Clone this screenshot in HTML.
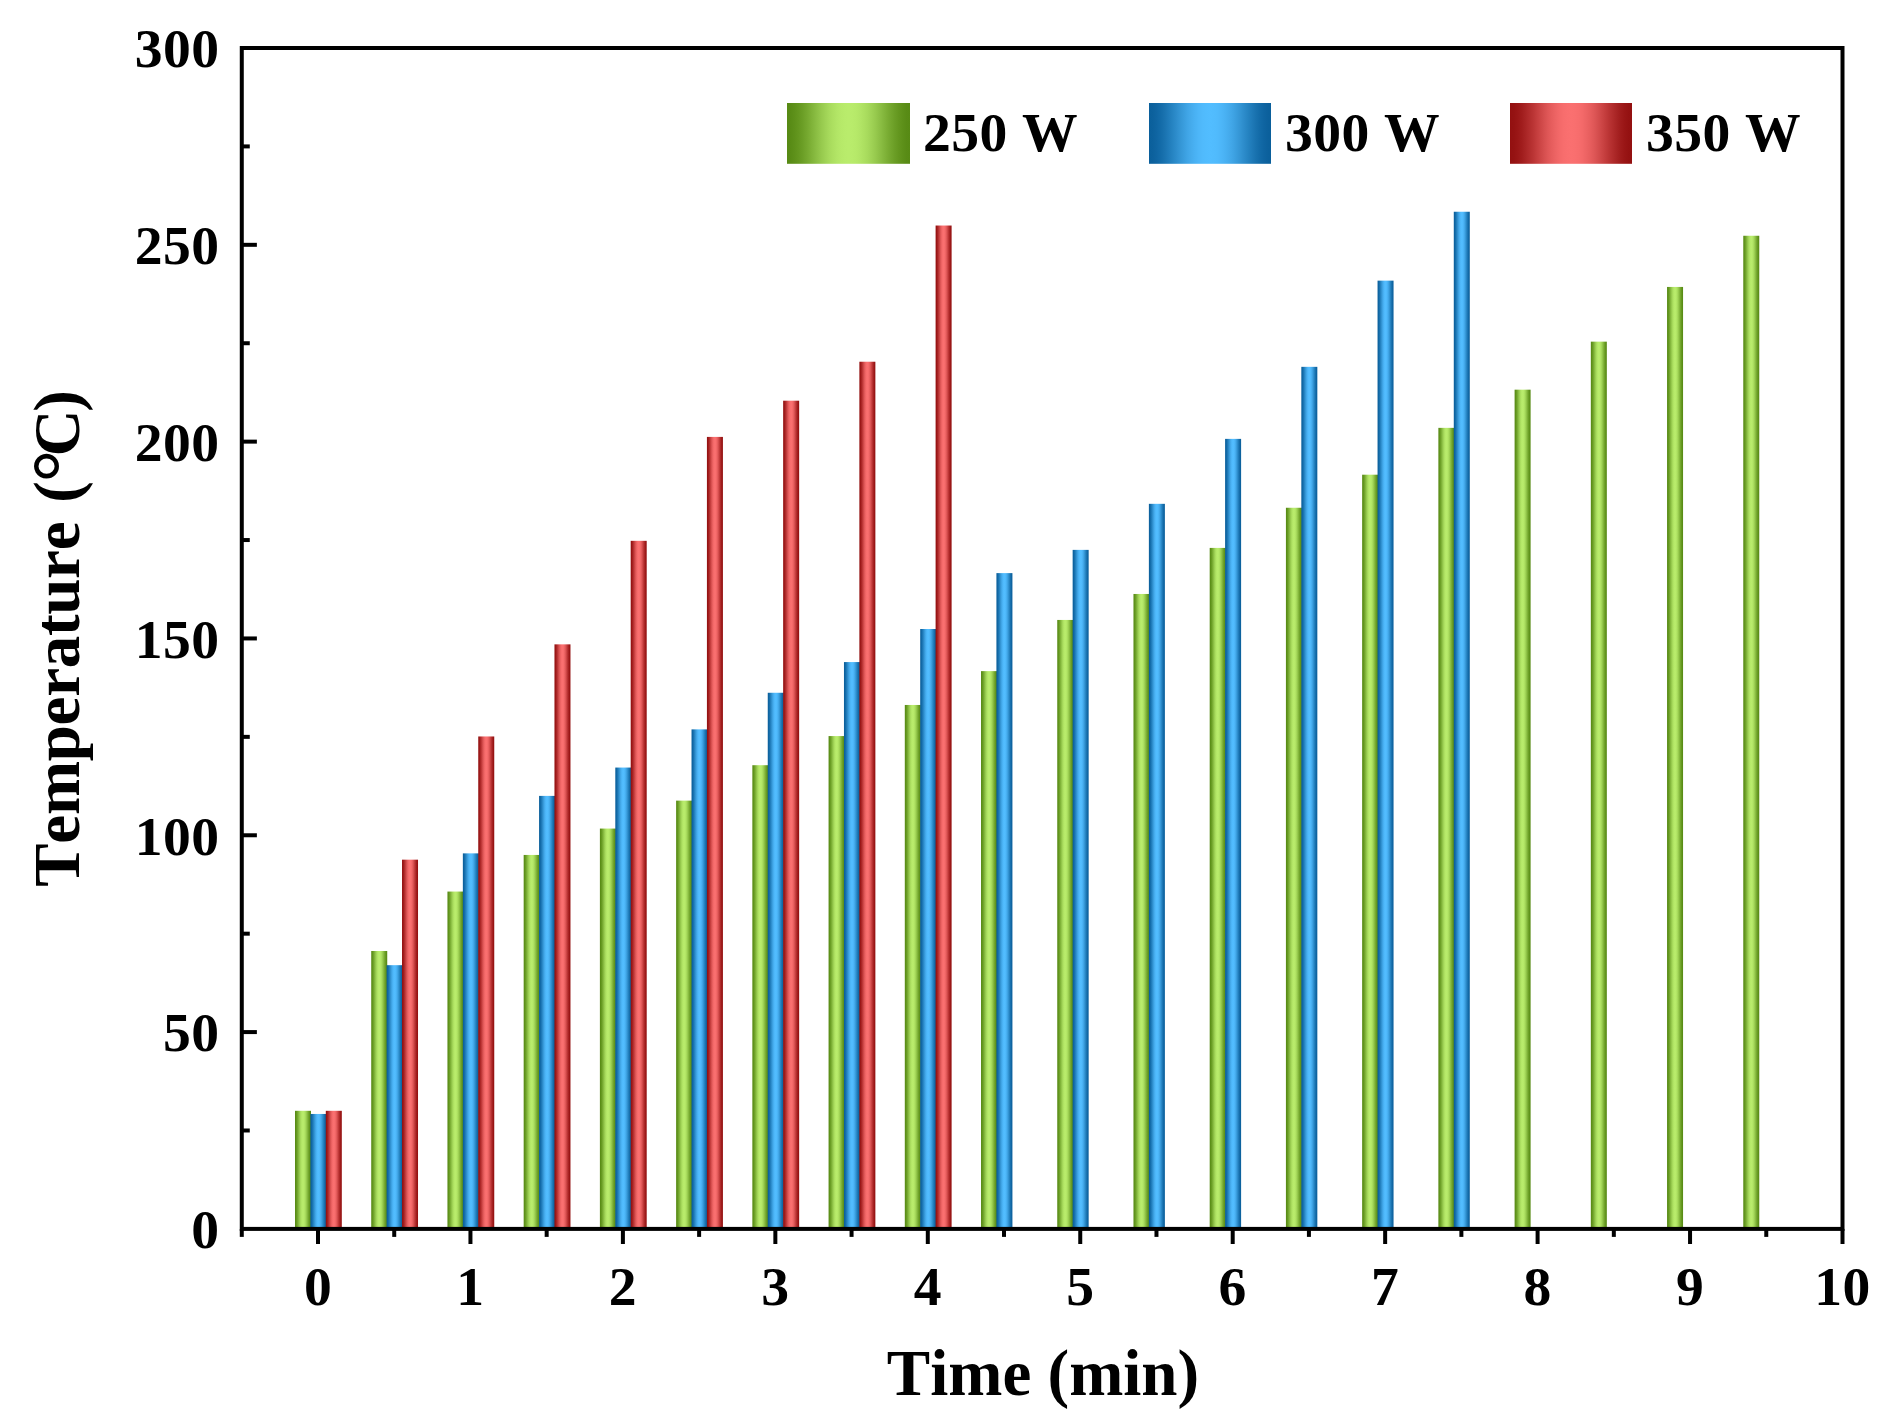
<!DOCTYPE html>
<html lang="en"><head><meta charset="utf-8"><title>Temperature vs Time</title>
<style>html,body{margin:0;padding:0;background:#fff;}body{width:1891px;height:1422px;overflow:hidden;}svg{display:block;}</style>
</head><body>
<svg width="1891" height="1422" viewBox="0 0 1891 1422">
<defs><linearGradient id="gG" x1="0" y1="0" x2="1" y2="0"><stop offset="0.000" stop-color="#578a14"/><stop offset="0.031" stop-color="#598c16"/><stop offset="0.062" stop-color="#5e911a"/><stop offset="0.094" stop-color="#64971f"/><stop offset="0.125" stop-color="#6b9e26"/><stop offset="0.156" stop-color="#73a62d"/><stop offset="0.188" stop-color="#7caf35"/><stop offset="0.219" stop-color="#85b83e"/><stop offset="0.250" stop-color="#8ec146"/><stop offset="0.281" stop-color="#97ca4e"/><stop offset="0.312" stop-color="#9fd255"/><stop offset="0.344" stop-color="#a7da5c"/><stop offset="0.375" stop-color="#ade061"/><stop offset="0.406" stop-color="#b2e566"/><stop offset="0.438" stop-color="#b6e969"/><stop offset="0.469" stop-color="#b8eb6b"/><stop offset="0.500" stop-color="#b9ec6c"/><stop offset="0.531" stop-color="#b8eb6b"/><stop offset="0.562" stop-color="#b6e969"/><stop offset="0.594" stop-color="#b2e566"/><stop offset="0.625" stop-color="#ade061"/><stop offset="0.656" stop-color="#a7da5c"/><stop offset="0.688" stop-color="#9fd255"/><stop offset="0.719" stop-color="#97ca4e"/><stop offset="0.750" stop-color="#8ec146"/><stop offset="0.781" stop-color="#85b83e"/><stop offset="0.812" stop-color="#7caf35"/><stop offset="0.844" stop-color="#73a62d"/><stop offset="0.875" stop-color="#6b9e26"/><stop offset="0.906" stop-color="#64971f"/><stop offset="0.938" stop-color="#5e911a"/><stop offset="0.969" stop-color="#598c16"/><stop offset="1.000" stop-color="#578a14"/></linearGradient><linearGradient id="gB" x1="0" y1="0" x2="1" y2="0"><stop offset="0.000" stop-color="#0a5f9b"/><stop offset="0.031" stop-color="#0c619d"/><stop offset="0.062" stop-color="#0f65a2"/><stop offset="0.094" stop-color="#136ba8"/><stop offset="0.125" stop-color="#1972af"/><stop offset="0.156" stop-color="#1f7ab8"/><stop offset="0.188" stop-color="#2583c1"/><stop offset="0.219" stop-color="#2c8bca"/><stop offset="0.250" stop-color="#3394d3"/><stop offset="0.281" stop-color="#399cdc"/><stop offset="0.312" stop-color="#3fa4e5"/><stop offset="0.344" stop-color="#45abec"/><stop offset="0.375" stop-color="#49b1f3"/><stop offset="0.406" stop-color="#4db6f8"/><stop offset="0.438" stop-color="#50bafc"/><stop offset="0.469" stop-color="#51bcfe"/><stop offset="0.500" stop-color="#52bdff"/><stop offset="0.531" stop-color="#51bcfe"/><stop offset="0.562" stop-color="#50bafc"/><stop offset="0.594" stop-color="#4db6f8"/><stop offset="0.625" stop-color="#49b1f3"/><stop offset="0.656" stop-color="#45abec"/><stop offset="0.688" stop-color="#3fa4e5"/><stop offset="0.719" stop-color="#399cdc"/><stop offset="0.750" stop-color="#3394d3"/><stop offset="0.781" stop-color="#2c8bca"/><stop offset="0.812" stop-color="#2583c1"/><stop offset="0.844" stop-color="#1f7ab8"/><stop offset="0.875" stop-color="#1972af"/><stop offset="0.906" stop-color="#136ba8"/><stop offset="0.938" stop-color="#0f65a2"/><stop offset="0.969" stop-color="#0c619d"/><stop offset="1.000" stop-color="#0a5f9b"/></linearGradient><linearGradient id="gR" x1="0" y1="0" x2="1" y2="0"><stop offset="0.000" stop-color="#931010"/><stop offset="0.031" stop-color="#951212"/><stop offset="0.062" stop-color="#9a1616"/><stop offset="0.094" stop-color="#a01c1c"/><stop offset="0.125" stop-color="#a82424"/><stop offset="0.156" stop-color="#b12c2c"/><stop offset="0.188" stop-color="#ba3434"/><stop offset="0.219" stop-color="#c43d3d"/><stop offset="0.250" stop-color="#cd4646"/><stop offset="0.281" stop-color="#d64f4f"/><stop offset="0.312" stop-color="#df5757"/><stop offset="0.344" stop-color="#e75e5e"/><stop offset="0.375" stop-color="#ed6464"/><stop offset="0.406" stop-color="#f36969"/><stop offset="0.438" stop-color="#f76d6d"/><stop offset="0.469" stop-color="#f96f6f"/><stop offset="0.500" stop-color="#fa7070"/><stop offset="0.531" stop-color="#f96f6f"/><stop offset="0.562" stop-color="#f76d6d"/><stop offset="0.594" stop-color="#f36969"/><stop offset="0.625" stop-color="#ed6464"/><stop offset="0.656" stop-color="#e75e5e"/><stop offset="0.688" stop-color="#df5757"/><stop offset="0.719" stop-color="#d64f4f"/><stop offset="0.750" stop-color="#cd4646"/><stop offset="0.781" stop-color="#c43d3d"/><stop offset="0.812" stop-color="#ba3434"/><stop offset="0.844" stop-color="#b12c2c"/><stop offset="0.875" stop-color="#a82424"/><stop offset="0.906" stop-color="#a01c1c"/><stop offset="0.938" stop-color="#9a1616"/><stop offset="0.969" stop-color="#951212"/><stop offset="1.000" stop-color="#931010"/></linearGradient></defs>
<rect x="0" y="0" width="1891" height="1422" fill="#ffffff"/>
<g id="bars-250"><rect x="295.00" y="1110.81" width="16.00" height="118.09" fill="url(#gG)"/>
<rect x="371.23" y="950.99" width="16.00" height="277.91" fill="url(#gG)"/>
<rect x="447.45" y="891.56" width="16.00" height="337.34" fill="url(#gG)"/>
<rect x="523.67" y="854.95" width="16.00" height="373.95" fill="url(#gG)"/>
<rect x="599.90" y="828.57" width="16.00" height="400.33" fill="url(#gG)"/>
<rect x="676.12" y="800.63" width="16.00" height="428.27" fill="url(#gG)"/>
<rect x="752.35" y="765.20" width="16.00" height="463.70" fill="url(#gG)"/>
<rect x="828.57" y="736.07" width="16.00" height="492.83" fill="url(#gG)"/>
<rect x="904.80" y="704.97" width="16.00" height="523.93" fill="url(#gG)"/>
<rect x="981.02" y="671.12" width="16.00" height="557.78" fill="url(#gG)"/>
<rect x="1057.25" y="619.95" width="16.00" height="608.95" fill="url(#gG)"/>
<rect x="1133.47" y="593.97" width="16.00" height="634.93" fill="url(#gG)"/>
<rect x="1209.70" y="547.91" width="16.00" height="680.99" fill="url(#gG)"/>
<rect x="1285.92" y="507.76" width="16.00" height="721.14" fill="url(#gG)"/>
<rect x="1362.15" y="474.70" width="16.00" height="754.20" fill="url(#gG)"/>
<rect x="1438.38" y="427.86" width="16.00" height="801.04" fill="url(#gG)"/>
<rect x="1514.60" y="389.67" width="16.00" height="839.23" fill="url(#gG)"/>
<rect x="1590.82" y="341.65" width="16.00" height="887.25" fill="url(#gG)"/>
<rect x="1667.05" y="286.94" width="16.00" height="941.96" fill="url(#gG)"/>
<rect x="1743.27" y="235.76" width="16.00" height="993.14" fill="url(#gG)"/></g>
<g id="bars-300"><rect x="310.40" y="1113.96" width="16.00" height="114.94" fill="url(#gB)"/>
<rect x="386.62" y="965.17" width="16.00" height="263.73" fill="url(#gB)"/>
<rect x="462.85" y="853.37" width="16.00" height="375.53" fill="url(#gB)"/>
<rect x="539.07" y="795.90" width="16.00" height="433.00" fill="url(#gB)"/>
<rect x="615.30" y="767.56" width="16.00" height="461.34" fill="url(#gB)"/>
<rect x="691.52" y="729.38" width="16.00" height="499.52" fill="url(#gB)"/>
<rect x="767.75" y="692.77" width="16.00" height="536.13" fill="url(#gB)"/>
<rect x="843.97" y="662.07" width="16.00" height="566.83" fill="url(#gB)"/>
<rect x="920.20" y="629.00" width="16.00" height="599.90" fill="url(#gB)"/>
<rect x="996.42" y="573.11" width="16.00" height="655.79" fill="url(#gB)"/>
<rect x="1072.65" y="549.88" width="16.00" height="679.02" fill="url(#gB)"/>
<rect x="1148.88" y="503.83" width="16.00" height="725.07" fill="url(#gB)"/>
<rect x="1225.10" y="438.88" width="16.00" height="790.02" fill="url(#gB)"/>
<rect x="1301.33" y="366.84" width="16.00" height="862.06" fill="url(#gB)"/>
<rect x="1377.55" y="280.64" width="16.00" height="948.26" fill="url(#gB)"/>
<rect x="1453.78" y="211.75" width="16.00" height="1017.15" fill="url(#gB)"/></g>
<g id="bars-350"><rect x="325.80" y="1110.81" width="16.00" height="118.09" fill="url(#gR)"/>
<rect x="402.02" y="859.67" width="16.00" height="369.23" fill="url(#gR)"/>
<rect x="478.25" y="736.46" width="16.00" height="492.44" fill="url(#gR)"/>
<rect x="554.47" y="644.35" width="16.00" height="584.55" fill="url(#gR)"/>
<rect x="630.70" y="540.83" width="16.00" height="688.07" fill="url(#gR)"/>
<rect x="706.92" y="436.91" width="16.00" height="791.99" fill="url(#gR)"/>
<rect x="783.15" y="400.70" width="16.00" height="828.20" fill="url(#gR)"/>
<rect x="859.37" y="361.73" width="16.00" height="867.17" fill="url(#gR)"/>
<rect x="935.60" y="225.53" width="16.00" height="1003.37" fill="url(#gR)"/></g>
<rect x="241.78" y="48.00" width="1600.72" height="1180.90" fill="none" stroke="#000" stroke-width="4"/>
<g stroke="#000" stroke-width="4" fill="none"><line x1="241.78" y1="1130.49" x2="249.78" y2="1130.49"/>
<line x1="241.78" y1="1032.08" x2="256.88" y2="1032.08"/>
<line x1="241.78" y1="933.68" x2="249.78" y2="933.68"/>
<line x1="241.78" y1="835.27" x2="256.88" y2="835.27"/>
<line x1="241.78" y1="736.86" x2="249.78" y2="736.86"/>
<line x1="241.78" y1="638.45" x2="256.88" y2="638.45"/>
<line x1="241.78" y1="540.04" x2="249.78" y2="540.04"/>
<line x1="241.78" y1="441.63" x2="256.88" y2="441.63"/>
<line x1="241.78" y1="343.23" x2="249.78" y2="343.23"/>
<line x1="241.78" y1="244.82" x2="256.88" y2="244.82"/>
<line x1="241.78" y1="146.41" x2="249.78" y2="146.41"/>
<line x1="318.00" y1="1228.90" x2="318.00" y2="1244.00"/>
<line x1="241.78" y1="1228.90" x2="241.78" y2="1236.90"/>
<line x1="470.45" y1="1228.90" x2="470.45" y2="1244.00"/>
<line x1="394.23" y1="1228.90" x2="394.23" y2="1236.90"/>
<line x1="622.90" y1="1228.90" x2="622.90" y2="1244.00"/>
<line x1="546.67" y1="1228.90" x2="546.67" y2="1236.90"/>
<line x1="775.35" y1="1228.90" x2="775.35" y2="1244.00"/>
<line x1="699.12" y1="1228.90" x2="699.12" y2="1236.90"/>
<line x1="927.80" y1="1228.90" x2="927.80" y2="1244.00"/>
<line x1="851.57" y1="1228.90" x2="851.57" y2="1236.90"/>
<line x1="1080.25" y1="1228.90" x2="1080.25" y2="1244.00"/>
<line x1="1004.02" y1="1228.90" x2="1004.02" y2="1236.90"/>
<line x1="1232.70" y1="1228.90" x2="1232.70" y2="1244.00"/>
<line x1="1156.47" y1="1228.90" x2="1156.47" y2="1236.90"/>
<line x1="1385.15" y1="1228.90" x2="1385.15" y2="1244.00"/>
<line x1="1308.92" y1="1228.90" x2="1308.92" y2="1236.90"/>
<line x1="1537.60" y1="1228.90" x2="1537.60" y2="1244.00"/>
<line x1="1461.38" y1="1228.90" x2="1461.38" y2="1236.90"/>
<line x1="1690.05" y1="1228.90" x2="1690.05" y2="1244.00"/>
<line x1="1613.82" y1="1228.90" x2="1613.82" y2="1236.90"/>
<line x1="1842.50" y1="1228.90" x2="1842.50" y2="1244.00"/>
<line x1="1766.27" y1="1228.90" x2="1766.27" y2="1236.90"/></g>
<g font-family="'Liberation Serif', 'Times New Roman', serif" font-weight="bold" fill="#000" style="font-kerning:none">
<g font-size="55.6" text-anchor="end" letter-spacing="0.45">
<text x="219.6" y="1248.20">0</text>
<text x="219.6" y="1051.38">50</text>
<text x="219.6" y="854.57">100</text>
<text x="219.6" y="657.75">150</text>
<text x="219.6" y="460.93">200</text>
<text x="219.6" y="264.12">250</text>
<text x="219.6" y="67.30">300</text>
</g>
<g font-size="55.6" text-anchor="middle" letter-spacing="0.45">
<text x="318.00" y="1304.7">0</text>
<text x="470.45" y="1304.7">1</text>
<text x="622.90" y="1304.7">2</text>
<text x="775.35" y="1304.7">3</text>
<text x="927.80" y="1304.7">4</text>
<text x="1080.25" y="1304.7">5</text>
<text x="1232.70" y="1304.7">6</text>
<text x="1385.15" y="1304.7">7</text>
<text x="1537.60" y="1304.7">8</text>
<text x="1690.05" y="1304.7">9</text>
<text x="1842.50" y="1304.7">10</text>
</g>
<text x="1043" y="1395" font-size="65" text-anchor="middle">Time (min)</text>
<text transform="translate(79.1 638.6) rotate(-90)" font-size="65" letter-spacing="-0.3" text-anchor="middle">Temperature <tspan dx="3">(</tspan><tspan font-size="82" dy="9.5" dx="-1">°</tspan><tspan dy="-9.5" dx="-6.5">C</tspan><tspan dx="-2">)</tspan></text>
<rect x="787" y="103" width="123" height="60.8" fill="url(#gG)"/>
<text x="923" y="151.4" font-size="55.6" letter-spacing="0.45">250 W</text>
<rect x="1149" y="103" width="122" height="60.8" fill="url(#gB)"/>
<text x="1285" y="151.4" font-size="55.6" letter-spacing="0.45">300 W</text>
<rect x="1510" y="103" width="122" height="60.8" fill="url(#gR)"/>
<text x="1646" y="151.4" font-size="55.6" letter-spacing="0.45">350 W</text>
</g>
</svg>
</body></html>
